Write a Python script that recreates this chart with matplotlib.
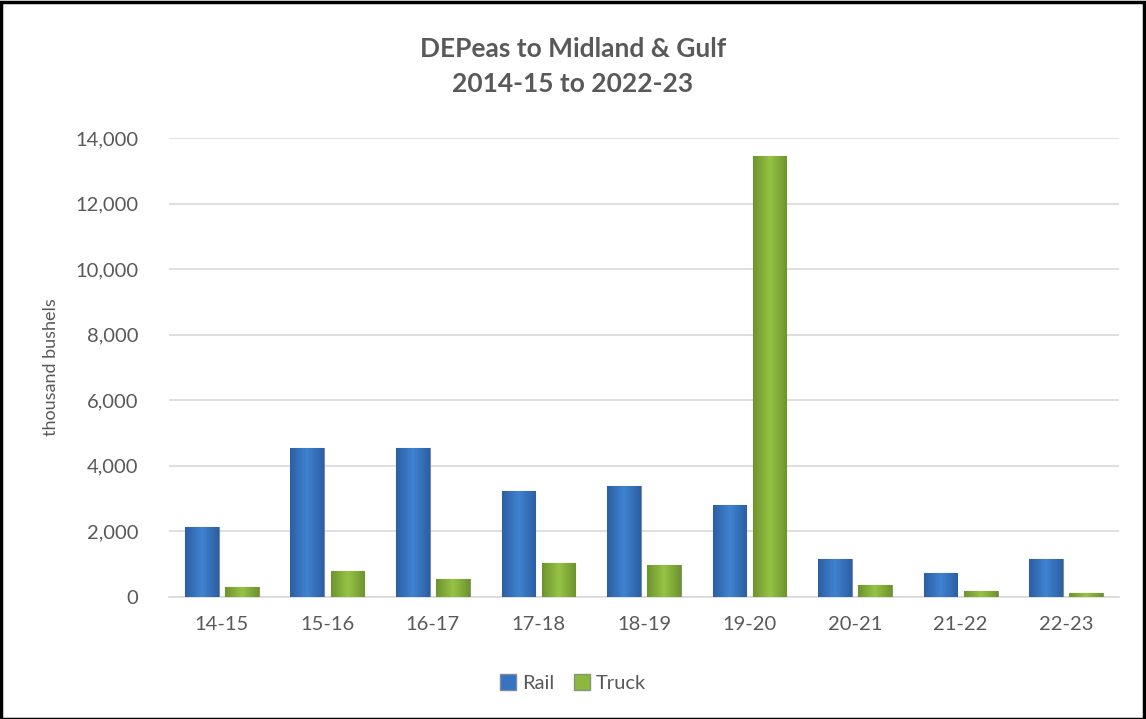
import matplotlib.pyplot as plt
import numpy as np
from matplotlib.patches import Patch, Rectangle
from matplotlib.colors import LinearSegmentedColormap

seasons = ["14-15", "15-16", "16-17", "17-18", "18-19", "19-20", "20-21", "21-22", "22-23"]
rail = [2130, 4560, 4560, 3230, 3380, 2800, 1160, 740, 1160]
truck = [290, 790, 550, 1040, 980, 13440, 370, 170, 110]
yticks = [0, 2000, 4000, 6000, 8000, 10000, 12000, 14000]

plt.rcParams['font.family'] = ['Lato', 'DejaVu Sans']
grey = '#595959'

fig = plt.figure(figsize=(11.46, 7.19), dpi=100)
ax = fig.add_axes([0.1475, 0.1697, 0.8289, 0.6383])

x = np.arange(len(seasons))
w = 0.32
b1 = ax.bar(x - 0.19, rail, w, color='#3673C2', edgecolor='#7F8A99', linewidth=0.8, label='Rail', zorder=3)
b2 = ax.bar(x + 0.19, truck, w, color='#8DB83E', edgecolor='#8A9478', linewidth=0.8, label='Truck', zorder=3)

ax.set_xlim(-0.5, len(seasons) - 0.5)
ax.set_ylim(0, 14000)

# shaded fill like the glossy bars in the original
grad = np.abs(np.linspace(-1, 1, 64))[None, :]
cm_blue = LinearSegmentedColormap.from_list('b', ['#3F82D0', '#2C5FA3'])
cm_green = LinearSegmentedColormap.from_list('g', ['#95C244', '#6E942E'])
for bars, cm in [(b1, cm_blue), (b2, cm_green)]:
    for p in bars:
        x0, y0 = p.get_x(), p.get_y()
        im = ax.imshow(grad, cmap=cm, aspect='auto', zorder=3.5,
                       extent=(x0, x0 + p.get_width(), y0, y0 + p.get_height()))
        im.set_clip_path(p)
ax.set_xlim(-0.5, len(seasons) - 0.5)
ax.set_ylim(0, 14000)

ax.set_yticks(yticks)
ax.set_yticklabels([f"{v:,}" for v in yticks])
ax.set_xticks(x)
ax.set_xticklabels(seasons)
ax.tick_params(axis='both', length=0, labelsize=14.5, colors=grey)
ax.tick_params(axis='y', pad=22)
ax.tick_params(axis='x', pad=14)
ax.grid(axis='y', color='#D9D9D9', linewidth=1.2, zorder=0)
for s in ['top', 'right', 'left']:
    ax.spines[s].set_visible(False)
ax.spines['bottom'].set_color('#D9D9D9')
ax.spines['bottom'].set_linewidth(1.2)

ax.set_ylabel("thousand bushels", fontsize=13, color=grey, labelpad=12)
fig.text(0.5, 0.908, "DEPeas to Midland & Gulf\n2014-15 to 2022-23", ha='center', va='center',
         fontsize=19, fontweight='bold', color=grey, linespacing=1.55)

handles = [Patch(facecolor='#3673C2', edgecolor='#7F8A99'), Patch(facecolor='#8DB83E', edgecolor='#8A9478')]
fig.legend(handles, ['Rail', 'Truck'], loc='center', bbox_to_anchor=(0.5, 0.05), ncol=2, frameon=False,
           fontsize=14.5, labelcolor=grey, handlelength=0.8, handleheight=0.8, handletextpad=0.3, columnspacing=1.0)

fig.patches.append(Rectangle((0.001, 0.0), 0.997, 0.997, transform=fig.transFigure, fill=False,
                             edgecolor='black', linewidth=2.5))

fig.savefig("out.png", dpi=100)
